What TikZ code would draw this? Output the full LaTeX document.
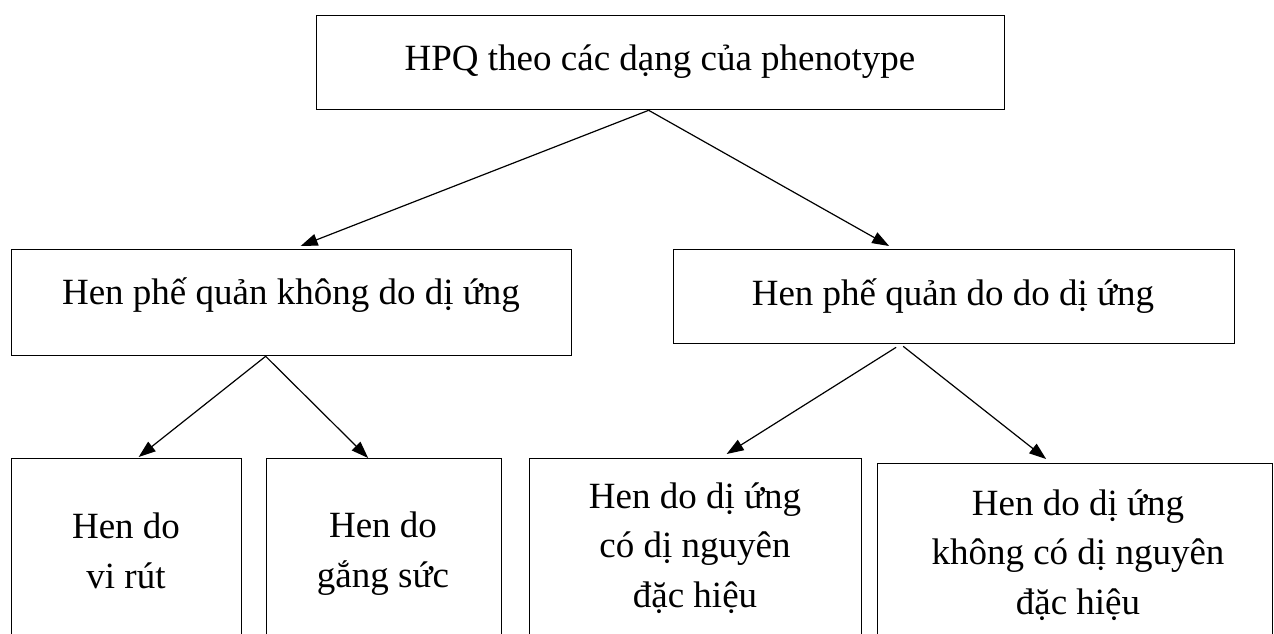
\documentclass[tikz,border=0pt]{standalone}
\usepackage{fontspec}
\setmainfont{Liberation Serif}
\usetikzlibrary{arrows.meta}
\tikzset{
  box/.style={draw=black, line width=1.3pt, rectangle, inner sep=0pt, anchor=north west},
  txt/.style={inner sep=0pt, align=center, anchor=base, font=\fontsize{37}{49.5}\selectfont},
  arr/.style={draw=black, line width=1.2pt, -{Triangle[length=17pt,width=12pt]}},
}
\begin{document}
\begin{tikzpicture}[x=1pt,y=-1pt]
\useasboundingbox (0,0) rectangle (1274,633);
\clip (0,0) rectangle (1274,633);
% boxes
\node[box, minimum width=688pt, minimum height=94pt] (top) at (316,15) {};
\node[box, minimum width=560pt, minimum height=106pt] (lm) at (11,249) {};
\node[box, minimum width=561pt, minimum height=94pt] (rm) at (673,249) {};
\node[box, minimum width=230pt, minimum height=260pt] (b1) at (11,458) {};
\node[box, minimum width=235pt, minimum height=260pt] (b2) at (266,458) {};
\node[box, minimum width=332pt, minimum height=260pt] (b3) at (529,458) {};
\node[box, minimum width=395pt, minimum height=260pt] (b4) at (877,463) {};
% texts (anchor base = baseline of the last line)
\node[txt] (topt) at (660,70) {HPQ theo các dạng của phenotype};
\node[txt] (lmt) at (291,304) {Hen phế quản không do dị ứng};
\node[txt] (rmt) at (953,305) {Hen phế quản do do dị ứng};
\node[txt] (b1t) at (126,588) {Hen do\\vi rút};
\node[txt] (b2t) at (383,587) {Hen do\\gắng sức};
\node[txt] (b3t) at (695,607) {Hen do dị ứng\\có dị nguyên\\đặc hiệu};
\node[txt] (b4t) at (1078,614) {Hen do dị ứng\\không có dị nguyên\\đặc hiệu};
% connectors
\draw[arr] ([xshift=-12pt]top.south) -- ([xshift=9pt,yshift=3pt]lm.north);
\draw[arr] ([xshift=-12pt]top.south) -- ([xshift=-65pt,yshift=3pt]rm.north);
\draw[arr] ([xshift=-26pt]lm.south) -- ([xshift=12pt,yshift=1pt]b1.north);
\draw[arr] ([xshift=-26pt]lm.south) -- ([xshift=-16pt,yshift=0pt]b2.north);
\draw[arr] ([xshift=-58pt,yshift=-3pt]rm.south) -- ([xshift=31pt,yshift=4pt]b3.north);
\draw[arr] ([xshift=-51pt,yshift=-2pt]rm.south) -- ([xshift=-29pt,yshift=4pt]b4.north);
\end{tikzpicture}
\end{document}
